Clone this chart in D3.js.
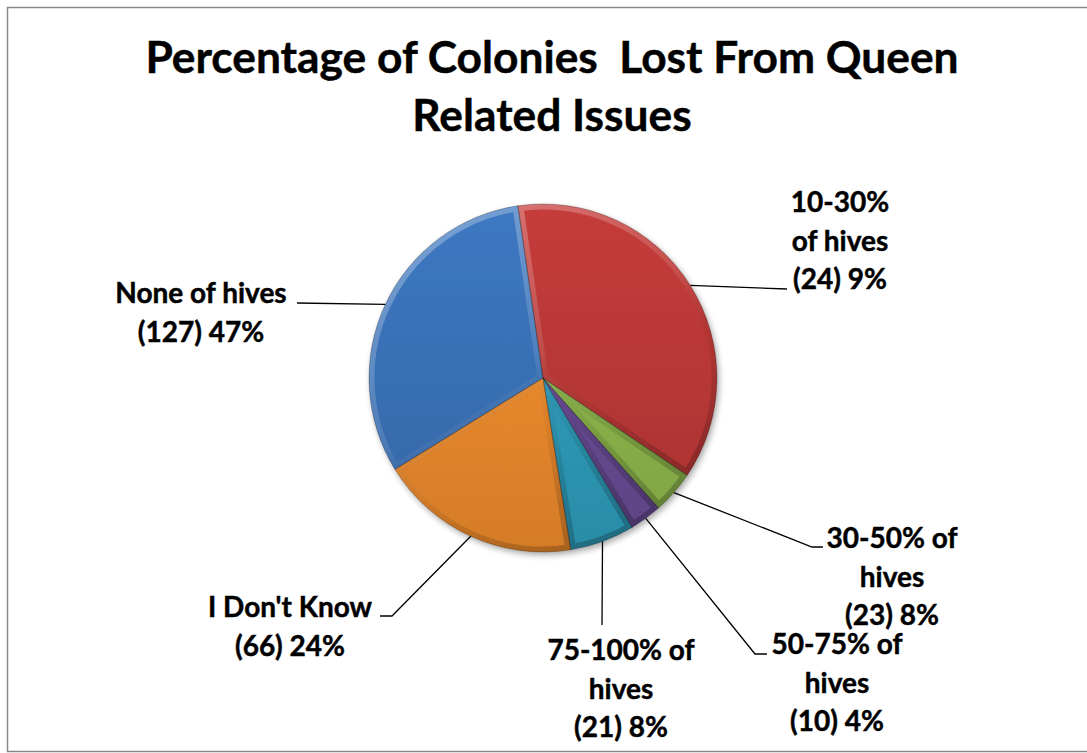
<!DOCTYPE html>
<html>
<head>
<meta charset="utf-8">
<script src="https://cdn.jsdelivr.net/npm/d3@7"></script>
<style>
    body { margin: 0; background: #fff; }
    svg text { font-family: Lato, "Open Sans", sans-serif; font-weight: bold; fill: #000; stroke: #000; stroke-width: 0.45px; }
</style>
</head>
<body>
<div id="chart"></div>
<script>
/*-------------------- Data -------------------*/

// categories in drawing order (clockwise from the first slice)
var categories = ["None of hives", "10-30% of hives", "30-50% of hives", "50-75% of hives", "75-100% of hives", "I Don't Know"];
// slice sizes (share of the circle, %)
var sliceShares = [31.5, 36.75, 4.0, 3.0, 6.0, 18.75];
// numbers printed in the labels
var counts = [127, 24, 23, 10, 21, 66];
var percents = [47, 9, 8, 4, 8, 24];
// how each label text is broken over lines
var labelLines = [
    ["None of hives"],
    ["10-30%", "of hives"],
    ["30-50% of", "hives"],
    ["50-75% of", "hives"],
    ["75-100% of", "hives"],
    ["I Don't Know"]
];
var colors = ["#3a72b8", "#bb3937", "#8cb54b", "#694b94", "#2f9cba", "#ec8a2c"];

/*-------------------- Layout -------------------*/

var width = 1087, height = 753;
var cx = 543, cy = 378, radius = 174;
var firstSliceAngle = 238.3; // degrees, clockwise from 12 o'clock
var lineStep = 38.5;

// label block centre + first baseline, leader elbow and end
var labelLayout = [
    {x: 201, y: 303, elbow: [297, 303], end: [297, 303]},
    {x: 840, y: 212, elbow: [787, 289], end: [787, 289]},
    {x: 892, y: 548, elbow: [812, 547], end: [823, 547]},
    {x: 837, y: 654, elbow: [755, 654], end: [767, 654]},
    {x: 621, y: 660, elbow: [602, 625], end: [602, 625]},
    {x: 290, y: 617, elbow: [392, 616], end: [380, 616]}
];

var svg = d3.select("#chart").append("svg")
    .attr("width", width)
    .attr("height", height);

// chart area border (right edge runs off the picture)
svg.append("rect")
    .attr("x", 7.5).attr("y", 7.5)
    .attr("width", width + 20).attr("height", 744)
    .attr("fill", "#fff")
    .attr("stroke", "#878787")
    .attr("stroke-width", 1.5);

// title
var title = svg.append("text")
    .attr("x", 552)
    .attr("text-anchor", "middle")
    .style("font-size", "44.3px");
title.append("tspan").attr("x", 552).attr("y", 73).text("Percentage of Colonies  Lost From Queen").attr("xml:space", "preserve");
title.append("tspan").attr("x", 552).attr("y", 131).text("Related Issues");

/*-------------------- Pie -------------------*/

var pie = d3.pie()
    .sort(null)
    .value(d => d)
    .startAngle(firstSliceAngle * Math.PI / 180)
    .endAngle(firstSliceAngle * Math.PI / 180 + 2 * Math.PI);

var arc = d3.arc().innerRadius(0).outerRadius(radius);
var arcs = pie(sliceShares);

var defs = svg.append("defs");

// soft drop shadow
var shadow = defs.append("filter").attr("id", "shadow")
    .attr("x", "-10%").attr("y", "-10%").attr("width", "120%").attr("height", "120%");
shadow.append("feGaussianBlur").attr("in", "SourceAlpha").attr("stdDeviation", 3);
shadow.append("feOffset").attr("dx", 2).attr("dy", 3).attr("result", "off");
shadow.append("feComponentTransfer").append("feFuncA").attr("type", "linear").attr("slope", 0.35);
var merge = shadow.append("feMerge");
merge.append("feMergeNode");
merge.append("feMergeNode").attr("in", "SourceGraphic");

// fill gradients, lighter at the top (coords relative to the pie centre)
colors.forEach(function(c, i) {
    var g = defs.append("linearGradient").attr("id", "fill-" + i)
        .attr("gradientUnits", "userSpaceOnUse")
        .attr("x1", 0).attr("y1", -radius).attr("x2", 0).attr("y2", radius);
    g.append("stop").attr("offset", "0%").attr("stop-color", d3.color(c).brighter(0.15));
    g.append("stop").attr("offset", "100%").attr("stop-color", d3.color(c).darker(0.3));
});

// bevel: light on upper-left edges, dark on lower-right
var bevel = defs.append("linearGradient").attr("id", "bevel")
    .attr("gradientUnits", "userSpaceOnUse")
    .attr("x1", -radius * 0.6).attr("y1", -radius)
    .attr("x2", radius * 0.6).attr("y2", radius);
bevel.append("stop").attr("offset", "0%").attr("stop-color", "#fff").attr("stop-opacity", 0.32);
bevel.append("stop").attr("offset", "45%").attr("stop-color", "#fff").attr("stop-opacity", 0.1);
bevel.append("stop").attr("offset", "60%").attr("stop-color", "#000").attr("stop-opacity", 0.04);
bevel.append("stop").attr("offset", "100%").attr("stop-color", "#000").attr("stop-opacity", 0.28);

arcs.forEach(function(d, i) {
    defs.append("clipPath").attr("id", "clip-" + i)
        .append("path").attr("d", arc(d));
});

var pieG = svg.append("g").attr("transform", "translate(" + cx + "," + cy + ")");

pieG.append("g").attr("filter", "url(#shadow)")
    .selectAll("path.slice")
    .data(arcs)
    .enter()
    .append("path")
    .attr("class", "slice")
    .attr("d", arc)
    .attr("fill", (d, i) => "url(#fill-" + i + ")");

pieG.selectAll("path.bevel")
    .data(arcs)
    .enter()
    .append("path")
    .attr("class", "bevel")
    .attr("d", arc)
    .attr("clip-path", (d, i) => "url(#clip-" + i + ")")
    .attr("fill", "none")
    .attr("stroke", "url(#bevel)")
    .attr("stroke-width", 11)
    .attr("stroke-linejoin", "round");

pieG.selectAll("path.edge")
    .data(arcs)
    .enter()
    .append("path")
    .attr("class", "edge")
    .attr("d", arc)
    .attr("fill", "none")
    .attr("stroke", "rgba(0,0,0,0.3)")
    .attr("stroke-width", 0.8);

/*-------------------- Labels -------------------*/

var labelG = svg.append("g");

arcs.forEach(function(d, i) {
    var mid = (d.startAngle + d.endAngle) / 2;
    var start = [cx + radius * Math.sin(mid), cy - radius * Math.cos(mid)];
    var lay = labelLayout[i];

    labelG.append("path")
        .attr("d", d3.line()([start, lay.elbow, lay.end]))
        .attr("fill", "none")
        .attr("stroke", "#000")
        .attr("stroke-width", 1.3);

    var lines = labelLines[i].concat(["(" + counts[i] + ") " + percents[i] + "%"]);
    var t = labelG.append("text")
        .attr("text-anchor", "middle")
        .style("font-size", "28px");
    t.selectAll("tspan")
        .data(lines)
        .enter()
        .append("tspan")
        .attr("x", lay.x)
        .attr("y", (l, k) => lay.y + k * lineStep)
        .text(l => l);
});
</script>
</body>
</html>
